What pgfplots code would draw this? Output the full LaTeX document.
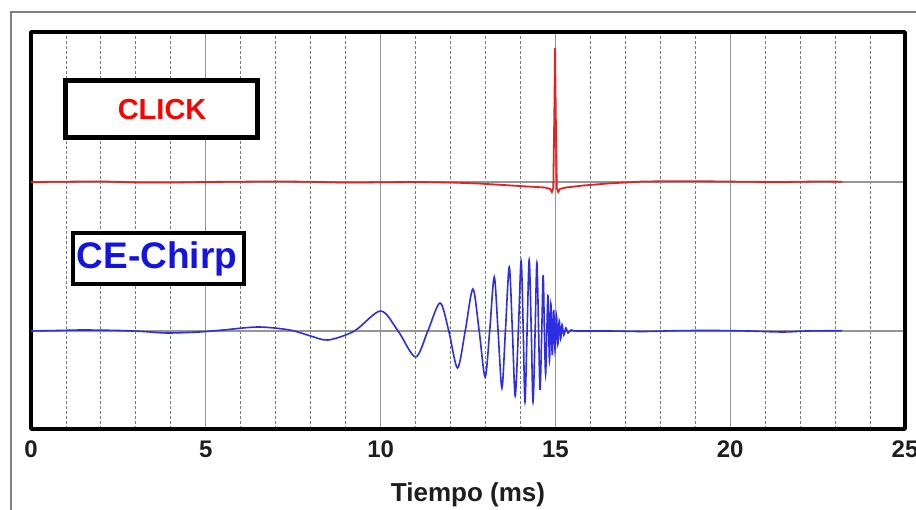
\documentclass[border=0pt]{standalone}
\usepackage{pgfplots}
\pgfplotsset{compat=1.18}
\usepackage{fontspec}
\setmainfont{Liberation Sans}
\definecolor{sigred}{RGB}{225,35,35}
\definecolor{sigblue}{RGB}{45,45,225}
\definecolor{gridgray}{RGB}{150,150,150}
\definecolor{txtdark}{RGB}{30,30,30}

\begin{document}
\begin{tikzpicture}[x=1pt,y=1pt]
  \useasboundingbox (0,0) rectangle (916,510);
  % outer frame
  \draw[line width=2.5pt, color=gray] (11,498) rectangle (940,-20);

  \begin{axis}[
      at={(31pt,81pt)}, anchor=south west,
      scale only axis,
      width=874pt, height=397pt,
      xmin=0, xmax=25, ymin=0, ymax=397,
      xtick={0,5,...,25},
      minor xtick={1,2,3,4,6,7,8,9,11,12,13,14,16,17,18,19,21,22,23,24},
      ytick={98,247}, yticklabels={},
      xmajorgrids, xminorgrids, ymajorgrids,
      major grid style={gridgray, line width=1.1pt},
      minor grid style={gray!95!black, line width=0.9pt, dash pattern=on 2.5pt off 2.5pt},
      major tick length=0pt, minor tick length=0pt,
      axis line style={line width=3.5pt, line join=round},
      /pgf/number format/assume math mode=true,
      xticklabel style={font=\fontsize{24}{24}\selectfont\bfseries, text=txtdark, anchor=base, inner sep=0pt, yshift=-29pt},
      xlabel={Tiempo (ms)},
      xlabel style={font=\fontsize{26}{26}\selectfont\bfseries, text=txtdark, at={(axis description cs:0.5,0)}, anchor=base, inner sep=0pt, yshift=-73pt},
      clip=true,
    ]

    % CLICK response (offset from baseline, pixels)
    \addplot[sigred, line width=1.8pt, sharp plot] table[x=t, y expr=\thisrow{v}+247] {
      t v
      0 0
      1 0.3
      2 0.6
      3 -0.4
      4 -0.6
      5 0
      6 0.3
      7 0.6
      8 0.2
      9 -0.6
      10 -0.3
      11 0
      12 -0.5
      12.8 -1.5
      13.5 -3
      14.2 -4.5
      14.7 -5.5
      14.85 -7
      14.9 -10
      14.94 -6
      14.97 70
      14.99 134
      15.01 70
      15.04 -6
      15.08 -10
      15.13 -7
      15.3 -5.5
      15.8 -3.5
      16.5 -1.5
      17.5 0.5
      18.5 0.8
      19.5 0.6
      20.5 0.2
      21.5 0
      22.5 0.5
      23.2 0.3
    };

    % CE-Chirp response (offset from baseline, pixels)
    \addplot[sigblue, line width=1.6pt, smooth, tension=0.5] table[x=t, y expr=\thisrow{v}+98] {
      t v
      0 0
      0.8 0.5
      1.5 1
      2.5 0.5
      3.2 -0.5
      3.9 -2
      4.8 -1
      5.5 1
      6.5 4
      7.4 1
      8.0 -5
      8.5 -9
      9.25 0
      10.0 20
      10.5 0
      11.0 -26
      11.35 0
      11.7 28
      11.95 0
      12.2 -37
      12.42 0
      12.64 42
      12.82 0
      12.99 -46
      13.12 0
      13.25 54
      13.36 0
      13.47 -57
      13.57 0
      13.68 64
      13.77 0
      13.85 -65
      13.94 0
      14.02 70
      14.08 0
      14.13 -71
      14.19 0
      14.25 71
      14.31 0
      14.36 -71
      14.42 0
      14.47 68
      14.52 0
      14.56 -59
      14.61 0
      14.65 56
      14.685 0
      14.72 -43
      14.755 0
      14.79 35
      14.83 -30
      14.87 27
      14.91 -24
      14.95 21
      14.99 -19
      15.03 15
      15.07 -13
      15.11 10
      15.15 -8
      15.19 6
      15.24 -4
      15.3 3
      15.36 -2
      15.45 1
      15.6 0
      16.5 0
      17.5 -0.5
      18.5 0.3
      19.5 0.5
      20.5 0
      21.5 -1
      22.2 0
      23.2 0.3
    };

    % label boxes
    \draw[line width=4.5pt, fill=white] (axis cs:0.987,348.5) rectangle (axis cs:6.479,291.5);
    \node[anchor=base, inner sep=0pt, text=red, font=\fontsize{29}{29}\selectfont\bfseries] at (axis cs:3.75,309) {CLICK};
    \draw[line width=3.5pt, fill=white] (axis cs:1.201,196) rectangle (axis cs:6.093,145);
    \node[anchor=base, inner sep=0pt, text={rgb,255:red,20;green,20;blue,225}, font=\fontsize{37}{37}\selectfont\bfseries] at (axis cs:3.604,160) {CE-Chirp};
  \end{axis}
\end{tikzpicture}
\end{document}
